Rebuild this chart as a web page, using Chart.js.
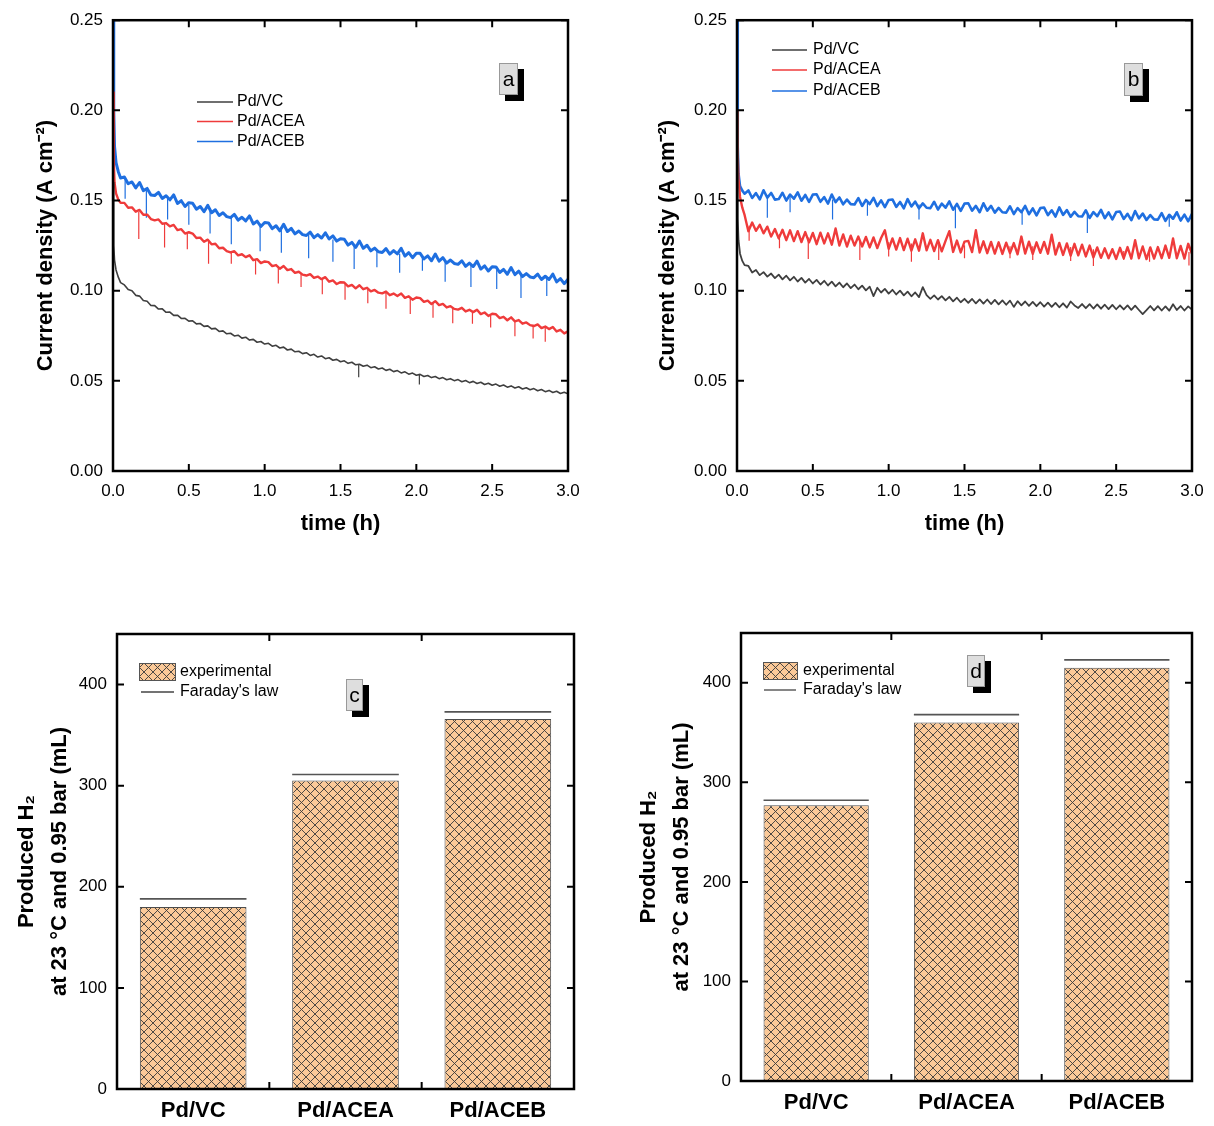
<!DOCTYPE html>
<html>
<head>
<meta charset="utf-8">
<script src="https://cdn.jsdelivr.net/npm/chart.js@4.4.0/dist/chart.umd.min.js"></script>
<style>
body{margin:0;background:#fff;}
#wrap{position:relative;width:1214px;height:1126px;}
canvas{position:absolute;}
</style>
</head>
<body>
<div id="wrap">
<canvas id="chartA" width="600" height="560" style="left:0;top:0"></canvas>
<canvas id="chartB" width="614" height="560" style="left:600px;top:0"></canvas>
<canvas id="chartC" width="600" height="526" style="left:0;top:600px"></canvas>
<canvas id="chartD" width="614" height="526" style="left:600px;top:600px"></canvas>
</div>
<script>
// data
const seriesNames = ['Pd/VC', 'Pd/ACEA', 'Pd/ACEB'];

const timeH = [0, 0.005, 0.01, 0.02, 0.035, 0.05,
  0.075, 0.1, 0.125, 0.15, 0.175, 0.2, 0.225, 0.25,
  0.275, 0.3, 0.325, 0.35, 0.375, 0.4, 0.425, 0.45, 0.475, 0.5,
  0.525, 0.55, 0.575, 0.6, 0.625, 0.65, 0.675, 0.7, 0.725, 0.75,
  0.775, 0.8, 0.825, 0.85, 0.875, 0.9, 0.925, 0.95, 0.975, 1.0,
  1.025, 1.05, 1.075, 1.1, 1.125, 1.15, 1.175, 1.2, 1.225, 1.25,
  1.275, 1.3, 1.325, 1.35, 1.375, 1.4, 1.425, 1.45, 1.475, 1.5,
  1.525, 1.55, 1.575, 1.6, 1.625, 1.65, 1.675, 1.7, 1.725, 1.75,
  1.775, 1.8, 1.825, 1.85, 1.875, 1.9, 1.925, 1.95, 1.975, 2.0,
  2.025, 2.05, 2.075, 2.1, 2.125, 2.15, 2.175, 2.2, 2.225, 2.25,
  2.275, 2.3, 2.325, 2.35, 2.375, 2.4, 2.425, 2.45, 2.475, 2.5,
  2.525, 2.55, 2.575, 2.6, 2.625, 2.65, 2.675, 2.7, 2.725, 2.75,
  2.775, 2.8, 2.825, 2.85, 2.875, 2.9, 2.925, 2.95, 2.975, 3.0];

// panel a, current density (A cm-2)
const vcA = [0.160, 0.125, 0.117, 0.1115, 0.1075, 0.1045,
  0.1032, 0.1006, 0.1000, 0.0974, 0.0970, 0.0946, 0.0941, 0.0918,
  0.0917, 0.0898, 0.0899, 0.0880, 0.0881, 0.0863, 0.0864, 0.0846, 0.0847, 0.0831,
  0.0833, 0.0816, 0.0818, 0.0802, 0.0805, 0.0788, 0.0791, 0.0774, 0.0777, 0.0761,
  0.0764, 0.0749, 0.0753, 0.0737, 0.0742, 0.0726, 0.0730, 0.0714, 0.0718, 0.0704,
  0.0708, 0.0692, 0.0697, 0.0682, 0.0687, 0.0671, 0.0676, 0.0661, 0.0664, 0.0651,
  0.0656, 0.0641, 0.0647, 0.0632, 0.0638, 0.0623, 0.0628, 0.0614, 0.0619, 0.0606,
  0.0611, 0.0597, 0.0603, 0.0589, 0.0592, 0.0581, 0.0587, 0.0573, 0.0578, 0.0566,
  0.0571, 0.0558, 0.0564, 0.0551, 0.0557, 0.0544, 0.0550, 0.0537, 0.0543, 0.0531,
  0.0536, 0.0524, 0.0530, 0.0518, 0.0524, 0.0512, 0.0518, 0.0506, 0.0512, 0.0501,
  0.0507, 0.0495, 0.0502, 0.0490, 0.0497, 0.0485, 0.0492, 0.0480, 0.0487, 0.0476,
  0.0482, 0.0470, 0.0477, 0.0465, 0.0472, 0.0460, 0.0467, 0.0455, 0.0462, 0.0451,
  0.0457, 0.0445, 0.0452, 0.0440, 0.0447, 0.0435, 0.0442, 0.0430, 0.0437, 0.0428];
const aceaA = [0.210, 0.172, 0.160, 0.154, 0.1505, 0.1488,
  0.1487, 0.1460, 0.1462, 0.1438, 0.1448, 0.1421, 0.1422, 0.1397,
  0.1390, 0.1395, 0.1371, 0.1375, 0.1357, 0.1365, 0.1336, 0.1341, 0.1317, 0.1324,
  0.1317, 0.1292, 0.1294, 0.1271, 0.1283, 0.1257, 0.1260, 0.1235, 0.1238, 0.1219,
  0.1212, 0.1219, 0.1196, 0.1202, 0.1186, 0.1196, 0.1169, 0.1175, 0.1153, 0.1162,
  0.1158, 0.1136, 0.1142, 0.1122, 0.1137, 0.1114, 0.1120, 0.1099, 0.1105, 0.1089,
  0.1084, 0.1092, 0.1071, 0.1078, 0.1064, 0.1075, 0.1050, 0.1057, 0.1037, 0.1047,
  0.1045, 0.1024, 0.1032, 0.1013, 0.1030, 0.1008, 0.1016, 0.0996, 0.1004, 0.0989,
  0.0985, 0.0995, 0.0975, 0.0984, 0.0971, 0.0984, 0.0960, 0.0969, 0.0950, 0.0962,
  0.0959, 0.0938, 0.0945, 0.0926, 0.0942, 0.0920, 0.0927, 0.0907, 0.0914, 0.0899,
  0.0895, 0.0905, 0.0885, 0.0894, 0.0881, 0.0894, 0.0870, 0.0879, 0.0860, 0.0872,
  0.0869, 0.0848, 0.0855, 0.0836, 0.0852, 0.0830, 0.0837, 0.0817, 0.0824, 0.0809,
  0.0804, 0.0813, 0.0793, 0.0801, 0.0787, 0.0799, 0.0774, 0.0783, 0.0763, 0.0774];
const acebA = [0.260, 0.200, 0.180, 0.171, 0.166, 0.1625,
  0.1630, 0.1593, 0.1603, 0.1570, 0.1600, 0.1555, 0.1567, 0.1531,
  0.1528, 0.1545, 0.1511, 0.1526, 0.1504, 0.1531, 0.1484, 0.1499, 0.1467, 0.1488,
  0.1485, 0.1452, 0.1467, 0.1438, 0.1473, 0.1432, 0.1449, 0.1417, 0.1432, 0.1411,
  0.1405, 0.1423, 0.1391, 0.1407, 0.1387, 0.1415, 0.1370, 0.1386, 0.1356, 0.1378,
  0.1376, 0.1344, 0.1360, 0.1332, 0.1368, 0.1328, 0.1346, 0.1315, 0.1331, 0.1311,
  0.1306, 0.1325, 0.1294, 0.1311, 0.1292, 0.1321, 0.1287, 0.1304, 0.1275, 0.1288,
  0.1285, 0.1253, 0.1268, 0.1240, 0.1275, 0.1235, 0.1252, 0.1221, 0.1236, 0.1216,
  0.1212, 0.1233, 0.1203, 0.1222, 0.1204, 0.1235, 0.1192, 0.1211, 0.1183, 0.1208,
  0.1207, 0.1176, 0.1193, 0.1166, 0.1203, 0.1164, 0.1183, 0.1153, 0.1170, 0.1151,
  0.1146, 0.1166, 0.1135, 0.1153, 0.1134, 0.1164, 0.1120, 0.1138, 0.1109, 0.1133,
  0.1132, 0.1101, 0.1118, 0.1091, 0.1128, 0.1089, 0.1108, 0.1078, 0.1095, 0.1076,
  0.1072, 0.1092, 0.1062, 0.1080, 0.1062, 0.1092, 0.1049, 0.1067, 0.1039, 0.1063];

// downward glitches in panel a: time, level before the glitch, lowest value
const vcA_spikeT = [1.62, 2.02];
const vcA_spikeTop = [0.0590, 0.0532];
const vcA_spikeLow = [0.0520, 0.0480];
const aceaA_spikeT = [0.17, 0.34, 0.49, 0.63, 0.78, 0.94, 1.09, 1.24, 1.38, 1.53,
  1.68, 1.80, 1.96, 2.11, 2.24, 2.37, 2.49, 2.65, 2.77, 2.85];
const aceaA_spikeTop = [0.1437, 0.1370, 0.1322, 0.1278, 0.1217, 0.1172, 0.1132, 0.1098, 0.1067, 0.1035,
  0.1008, 0.0987, 0.0962, 0.0934, 0.0907, 0.0886, 0.0866, 0.0835, 0.0811, 0.0799];
const aceaA_spikeLow = [0.1287, 0.1240, 0.1230, 0.1150, 0.1150, 0.1090, 0.1040, 0.1020, 0.0980, 0.0950,
  0.0930, 0.0900, 0.0870, 0.0850, 0.0820, 0.0816, 0.0796, 0.0747, 0.0735, 0.0717];
const acebA_spikeT = [0.08, 0.22, 0.36, 0.50, 0.64, 0.78, 0.97, 1.11, 1.29, 1.45,
  1.59, 1.74, 1.89, 2.04, 2.19, 2.36, 2.53, 2.69, 2.86];
const acebA_spikeTop = [0.1612, 0.1557, 0.1514, 0.1475, 0.1444, 0.1413, 0.1372, 0.1350, 0.1313, 0.1284,
  0.1257, 0.1227, 0.1205, 0.1190, 0.1169, 0.1142, 0.1116, 0.1093, 0.1070];
const acebA_spikeLow = [0.1510, 0.1405, 0.1395, 0.1366, 0.1317, 0.1258, 0.1218, 0.1210, 0.1180, 0.1160,
  0.1120, 0.1130, 0.1100, 0.1110, 0.1050, 0.1020, 0.1010, 0.0960, 0.0970];

// panel b
const vcB = [0.200, 0.140, 0.128, 0.1205, 0.1165, 0.1142,
  0.1137, 0.1101, 0.1115, 0.1086, 0.1103, 0.1078, 0.1095, 0.1070,
  0.1089, 0.1063, 0.1083, 0.1057, 0.1077, 0.1051, 0.1071, 0.1045, 0.1065, 0.1040,
  0.1060, 0.1034, 0.1055, 0.1029, 0.1050, 0.1024, 0.1045, 0.1019, 0.1040, 0.1014,
  0.1034, 0.1008, 0.1028, 0.1002, 0.1022, 0.0970, 0.1016, 0.0990, 0.1010, 0.0984,
  0.1005, 0.0979, 0.1000, 0.0974, 0.0995, 0.0969, 0.0990, 0.0964, 0.1020, 0.0975,
  0.0955, 0.0974, 0.0951, 0.0970, 0.0946, 0.0966, 0.0941, 0.0961, 0.0936, 0.0955,
  0.0933, 0.0954, 0.0930, 0.0952, 0.0928, 0.0951, 0.0926, 0.0949, 0.0924, 0.0946,
  0.0922, 0.0945, 0.0910, 0.0942, 0.0919, 0.0940, 0.0916, 0.0938, 0.0914, 0.0936,
  0.0912, 0.0934, 0.0910, 0.0932, 0.0908, 0.0930, 0.0906, 0.0940, 0.0918, 0.0904,
  0.0926, 0.0903, 0.0925, 0.0901, 0.0924, 0.0900, 0.0922, 0.0898, 0.0921, 0.0897,
  0.0919, 0.0896, 0.0918, 0.0894, 0.0917, 0.0893, 0.0870, 0.0892, 0.0915, 0.0891,
  0.0914, 0.0890, 0.0913, 0.0889, 0.0925, 0.0893, 0.0915, 0.0890, 0.0913, 0.0895];
const aceaB = [0.200, 0.175, 0.162, 0.152, 0.146, 0.1420,
  0.1330, 0.1378, 0.1332, 0.1365, 0.1318, 0.1355, 0.1300, 0.1342,
  0.1290, 0.1338, 0.1280, 0.1335, 0.1275, 0.1330, 0.1270, 0.1325, 0.1268, 0.1320,
  0.1258, 0.1322, 0.1262, 0.1318, 0.1255, 0.1345, 0.1250, 0.1312, 0.1245, 0.1305,
  0.1250, 0.1300, 0.1245, 0.1298, 0.1240, 0.1295, 0.1236, 0.1292, 0.1335, 0.1232,
  0.1290, 0.1228, 0.1292, 0.1225, 0.1288, 0.1222, 0.1285, 0.1222, 0.1318, 0.1224,
  0.1282, 0.1220, 0.1280, 0.1218, 0.1276, 0.1330, 0.1215, 0.1278, 0.1212, 0.1272,
  0.1276, 0.1214, 0.1335, 0.1212, 0.1274, 0.1208, 0.1270, 0.1206, 0.1268, 0.1204,
  0.1266, 0.1208, 0.1264, 0.1202, 0.1300, 0.1206, 0.1272, 0.1204, 0.1268, 0.1210,
  0.1270, 0.1205, 0.1310, 0.1200, 0.1265, 0.1198, 0.1262, 0.1195, 0.1260, 0.1196,
  0.1255, 0.1190, 0.1250, 0.1185, 0.1240, 0.1182, 0.1235, 0.1180, 0.1230, 0.1176,
  0.1238, 0.1180, 0.1242, 0.1178, 0.1280, 0.1180, 0.1245, 0.1175, 0.1240, 0.1178,
  0.1242, 0.1180, 0.1250, 0.1182, 0.1290, 0.1180, 0.1248, 0.1178, 0.1260, 0.1205];
const acebB = [0.250, 0.180, 0.165, 0.158, 0.1555, 0.1538,
  0.1556, 0.1514, 0.1541, 0.1506, 0.1557, 0.1516, 0.1542, 0.1505,
  0.1508, 0.1543, 0.1500, 0.1533, 0.1510, 0.1545, 0.1499, 0.1531, 0.1493, 0.1533,
  0.1535, 0.1493, 0.1519, 0.1483, 0.1533, 0.1491, 0.1517, 0.1479, 0.1505, 0.1480,
  0.1478, 0.1513, 0.1470, 0.1503, 0.1480, 0.1515, 0.1469, 0.1501, 0.1463, 0.1503,
  0.1506, 0.1465, 0.1492, 0.1457, 0.1508, 0.1467, 0.1494, 0.1457, 0.1484, 0.1460,
  0.1458, 0.1493, 0.1450, 0.1483, 0.1460, 0.1495, 0.1449, 0.1481, 0.1443, 0.1483,
  0.1485, 0.1444, 0.1470, 0.1435, 0.1485, 0.1444, 0.1470, 0.1433, 0.1459, 0.1435,
  0.1433, 0.1468, 0.1425, 0.1458, 0.1435, 0.1470, 0.1424, 0.1456, 0.1418, 0.1458,
  0.1461, 0.1419, 0.1446, 0.1411, 0.1462, 0.1420, 0.1447, 0.1410, 0.1437, 0.1413,
  0.1411, 0.1446, 0.1403, 0.1436, 0.1413, 0.1448, 0.1402, 0.1434, 0.1396, 0.1436,
  0.1439, 0.1398, 0.1426, 0.1391, 0.1442, 0.1401, 0.1428, 0.1392, 0.1419, 0.1395,
  0.1394, 0.1430, 0.1387, 0.1421, 0.1399, 0.1435, 0.1389, 0.1422, 0.1385, 0.1426];

const aceaB_spikeT = [0.08, 0.28, 0.47, 0.81, 1.00, 1.15, 1.33, 1.50, 1.80, 1.95, 2.20, 2.35, 2.55, 2.72, 2.98];
const aceaB_spikeTop = [0.1360, 0.1315, 0.1295, 0.1275, 0.1268, 0.1262, 0.1258, 0.1252, 0.1247, 0.1246,
  0.1242, 0.1230, 0.1220, 0.1220, 0.1215];
const aceaB_spikeLow = [0.1277, 0.1235, 0.1175, 0.1170, 0.1190, 0.1160, 0.1170, 0.1180, 0.1180, 0.1170,
  0.1165, 0.1137, 0.1170, 0.1160, 0.1140];
const acebB_spikeT = [0.20, 0.35, 0.63, 0.86, 1.20, 1.44, 1.88, 2.31, 2.85];
const acebB_spikeTop = [0.1528, 0.1522, 0.1505, 0.1490, 0.1478, 0.1467, 0.1445, 0.1424, 0.1409];
const acebB_spikeLow = [0.1405, 0.1435, 0.1395, 0.1415, 0.1395, 0.1346, 0.1366, 0.1320, 0.1355];

// panels c and d, produced H2 (mL)
const catNames = ['Pd/VC', 'Pd/ACEA', 'Pd/ACEB'];
const expC = [180, 305, 366];
const faradayC = [188, 311, 373];
const expD = [277, 360, 415];
const faradayD = [282, 368, 423];

// styles
const FONT = '"Liberation Sans", Arial, Helvetica, sans-serif';
Chart.defaults.font.family = FONT;
Chart.defaults.color = '#000';
Chart.defaults.animation = false;
const lineColors = ['#3f3f3f', '#ef3b3b', '#1f6fe0'];
const widthsA = [1.6, 2.4, 3.0];
const widthsB = [1.8, 2.4, 2.6];

// legends and panel letters, keyed by canvas id
const decor = {
  chartA: {
    items: [
      {color: lineColors[0], x1: 197, x2: 233, y: 102, tx: 237, text: seriesNames[0]},
      {color: lineColors[1], x1: 197, x2: 233, y: 121.5, tx: 237, text: seriesNames[1]},
      {color: lineColors[2], x1: 197, x2: 233, y: 141.5, tx: 237, text: seriesNames[2]}
    ],
    tag: {text: 'a', x: 499, y: 63, w: 19, h: 32}
  },
  chartB: {
    items: [
      {color: lineColors[0], x1: 172, x2: 207, y: 50, tx: 213, text: seriesNames[0]},
      {color: lineColors[1], x1: 172, x2: 207, y: 70, tx: 213, text: seriesNames[1]},
      {color: lineColors[2], x1: 172, x2: 207, y: 91, tx: 213, text: seriesNames[2]}
    ],
    tag: {text: 'b', x: 524, y: 63, w: 19, h: 33}
  },
  chartC: {
    items: [
      {patch: true, x1: 139, x2: 176, y: 72, tx: 180, text: 'experimental'},
      {color: '#444', x1: 141, x2: 174, y: 92, tx: 180, text: "Faraday's law"}
    ],
    tag: {text: 'c', x: 346, y: 79, w: 17, h: 32}
  },
  chartD: {
    items: [
      {patch: true, x1: 163, x2: 198, y: 71, tx: 203, text: 'experimental'},
      {color: '#444', x1: 164, x2: 196, y: 90, tx: 203, text: "Faraday's law"}
    ],
    tag: {text: 'd', x: 367, y: 55, w: 18, h: 32}
  }
};

// box frame + inward ticks on all four sides
const framePlugin = {
  id: 'frame',
  afterDraw(chart, args, opts) {
    const {ctx, chartArea: a, scales} = chart;
    const xs = scales.x, ys = scales.y, len = 7;
    let xp = xs.ticks.map((t, i) => xs.getPixelForTick(i));
    if (opts.between) {
      const c = xp;
      xp = [];
      for (let i = 0; i < c.length - 1; i++) xp.push((c[i] + c[i + 1]) / 2);
    }
    ctx.save();
    ctx.strokeStyle = '#000';
    ctx.lineWidth = 2;
    ctx.beginPath();
    xp.forEach(px => {
      ctx.moveTo(px, a.bottom); ctx.lineTo(px, a.bottom - len);
      ctx.moveTo(px, a.top); ctx.lineTo(px, a.top + len);
    });
    ys.ticks.forEach((t, i) => {
      const py = ys.getPixelForTick(i);
      ctx.moveTo(a.left, py); ctx.lineTo(a.left + len, py);
      ctx.moveTo(a.right, py); ctx.lineTo(a.right - len, py);
    });
    ctx.stroke();
    ctx.lineWidth = 2.5;
    ctx.strokeRect(a.left, a.top, a.right - a.left, a.bottom - a.top);
    ctx.restore();
  }
};

// Faraday's law level over every bar
const faradayPlugin = {
  id: 'faraday',
  afterDatasetsDraw(chart, args, opts) {
    if (!opts.values) return;
    const ctx = chart.ctx, ys = chart.scales.y;
    const meta = chart.getDatasetMeta(0);
    ctx.save();
    ctx.strokeStyle = '#555';
    ctx.lineWidth = 1.6;
    meta.data.forEach((bar, i) => {
      const py = ys.getPixelForValue(opts.values[i]);
      ctx.beginPath();
      ctx.moveTo(bar.x - bar.width / 2, py);
      ctx.lineTo(bar.x + bar.width / 2, py);
      ctx.stroke();
    });
    ctx.restore();
  }
};

let hatchFill = null;

const decorPlugin = {
  id: 'decor',
  afterDraw(chart) {
    const o = decor[chart.canvas.id];
    if (!o) return;
    const ctx = chart.ctx;
    ctx.save();
    ctx.textBaseline = 'middle';
    ctx.textAlign = 'left';
    ctx.font = '16px ' + FONT;
    o.items.forEach(it => {
      if (it.patch) {
        ctx.fillStyle = hatchFill;
        ctx.fillRect(it.x1, it.y - 9, it.x2 - it.x1, 18);
        ctx.strokeStyle = '#555';
        ctx.lineWidth = 1;
        ctx.strokeRect(it.x1 + 0.5, it.y - 8.5, it.x2 - it.x1 - 1, 17);
      } else {
        ctx.strokeStyle = it.color;
        ctx.lineWidth = 1.3;
        ctx.beginPath();
        ctx.moveTo(it.x1, it.y);
        ctx.lineTo(it.x2, it.y);
        ctx.stroke();
      }
      ctx.fillStyle = '#000';
      ctx.fillText(it.text, it.tx, it.y);
    });
    const t = o.tag;
    ctx.fillStyle = '#000';
    ctx.fillRect(t.x + 6, t.y + 6, t.w, t.h);
    ctx.fillStyle = '#dedede';
    ctx.fillRect(t.x, t.y, t.w, t.h);
    ctx.strokeStyle = '#999';
    ctx.lineWidth = 1;
    ctx.strokeRect(t.x + 0.5, t.y + 0.5, t.w - 1, t.h - 1);
    ctx.fillStyle = '#000';
    ctx.textAlign = 'center';
    ctx.font = '21px ' + FONT;
    ctx.fillText(t.text, t.x + t.w / 2, t.y + t.h / 2 + 1);
    ctx.restore();
  }
};

// vertical glitch segments, separated by gaps
function spikePoints(ts, tops, lows) {
  const pts = [];
  ts.forEach((t, i) => {
    pts.push({x: t, y: tops[i]}, {x: t, y: lows[i]}, {x: t, y: null});
  });
  return pts;
}

function lineChart(id, values, widths, spikes, o) {
  const datasets = values.map((v, k) => ({
    label: seriesNames[k],
    data: timeH.map((t, i) => ({x: t, y: v[i]})),
    borderColor: lineColors[k],
    borderWidth: widths[k],
    borderJoinStyle: 'round',
    pointRadius: 0,
    tension: 0,
    fill: false
  }));
  spikes.forEach(s => {
    if (!s) return;
    datasets.push({
      label: seriesNames[s.k] + ' glitches',
      data: spikePoints(s.t, s.top, s.low),
      borderColor: lineColors[s.k],
      borderWidth: 1.2,
      pointRadius: 0,
      spanGaps: false,
      fill: false
    });
  });
  return new Chart(document.getElementById(id), {
    type: 'line',
    data: {datasets},
    options: {
      responsive: false,
      devicePixelRatio: 1,
      layout: {padding: {top: 19, right: o.right, left: 0, bottom: 0}},
      plugins: {legend: {display: false}, tooltip: {enabled: false}, frame: {}},
      scales: {
        x: {
          type: 'linear', min: 0, max: 3,
          ticks: {stepSize: 0.5, padding: 10, maxRotation: 0, font: {size: 17},
            callback: v => v.toFixed(1)},
          grid: {display: false, drawTicks: false}, border: {display: false},
          title: {display: true, text: 'time (h)', font: {size: 22, weight: 'bold'},
            padding: {top: 0, bottom: 23}},
          afterFit: s => { s.height = 89; }
        },
        y: {
          min: 0, max: 0.25,
          ticks: {stepSize: 0.05, padding: 10, font: {size: 17}, callback: v => v.toFixed(2)},
          grid: {display: false, drawTicks: false}, border: {display: false},
          title: {display: true, text: 'Current density (A cm⁻²)', font: {size: 22, weight: 'bold'},
            padding: {top: o.titlePad, bottom: 0}},
          afterFit: s => { s.width = o.yw; }
        }
      }
    },
    plugins: [framePlugin, decorPlugin]
  });
}

function makeHatch(ctx) {
  const c = document.createElement('canvas');
  c.width = 9; c.height = 9;
  const g = c.getContext('2d');
  g.fillStyle = 'rgb(251,201,152)';
  g.fillRect(0, 0, 9, 9);
  g.strokeStyle = '#3a3a3a';
  g.lineWidth = 0.9;
  g.beginPath();
  g.moveTo(-1, -1); g.lineTo(10, 10);
  g.moveTo(-1, 10); g.lineTo(10, -1);
  g.stroke();
  return ctx.createPattern(c, 'repeat');
}

function barChart(id, exp, far, o) {
  const cv = document.getElementById(id);
  hatchFill = makeHatch(cv.getContext('2d'));
  return new Chart(cv, {
    type: 'bar',
    data: {
      labels: catNames,
      datasets: [{
        label: 'experimental', data: exp,
        backgroundColor: hatchFill, borderColor: '#4d4d4d', borderWidth: 1,
        categoryPercentage: 1, barPercentage: 0.7
      }]
    },
    options: {
      responsive: false,
      devicePixelRatio: 1,
      layout: {padding: {top: o.top, right: o.right, left: 0, bottom: 0}},
      plugins: {
        legend: {display: false},
        tooltip: {enabled: false},
        frame: {between: true},
        faraday: {values: far}
      },
      scales: {
        x: {
          ticks: {padding: 9, font: {size: 22, weight: 'bold'}},
          grid: {display: false, drawTicks: false}, border: {display: false},
          afterFit: s => { s.height = o.xh; }
        },
        y: {
          min: 0, max: 450,
          ticks: {stepSize: 100, padding: 10, font: {size: 17}},
          afterBuildTicks: s => { s.ticks = s.ticks.filter(t => t.value <= 400); },
          grid: {display: false, drawTicks: false}, border: {display: false},
          title: {display: true, text: ['Produced H₂', 'at 23 °C and 0.95 bar (mL)'],
            font: {size: 22, weight: 'bold', lineHeight: 1.5},
            padding: {top: o.titlePad, bottom: 0}},
          afterFit: s => { s.width = o.yw; }
        }
      }
    },
    plugins: [faradayPlugin, framePlugin, decorPlugin]
  });
}

lineChart('chartA', [vcA, aceaA, acebA], widthsA, [
  {k: 0, t: vcA_spikeT, top: vcA_spikeTop, low: vcA_spikeLow},
  {k: 1, t: aceaA_spikeT, top: aceaA_spikeTop, low: aceaA_spikeLow},
  {k: 2, t: acebA_spikeT, top: acebA_spikeTop, low: acebA_spikeLow}
], {right: 32, yw: 113, titlePad: 33});

lineChart('chartB', [vcB, aceaB, acebB], widthsB, [
  null,
  {k: 1, t: aceaB_spikeT, top: aceaB_spikeTop, low: aceaB_spikeLow},
  {k: 2, t: acebB_spikeT, top: acebB_spikeTop, low: acebB_spikeLow}
], {right: 22, yw: 137, titlePad: 55});

barChart('chartC', expC, faradayC, {top: 34, right: 26, yw: 117, xh: 37, titlePad: 10});
barChart('chartD', expD, faradayD, {top: 33, right: 22, yw: 141, xh: 45, titlePad: 32});
</script>
</body>
</html>
